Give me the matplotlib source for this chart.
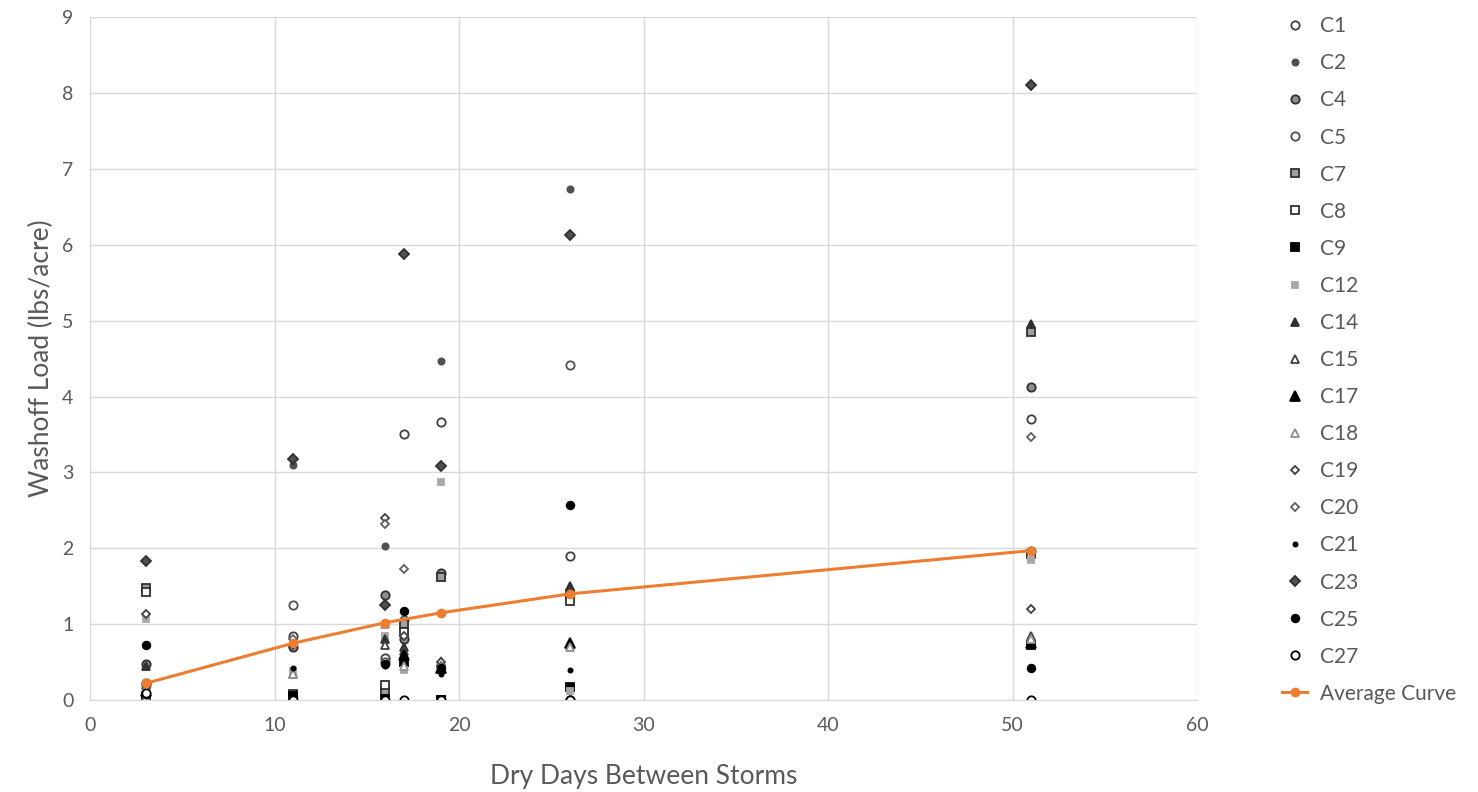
import matplotlib
matplotlib.use('Agg')
from matplotlib import pyplot as plt

plt.rcParams['font.family'] = ['Lato', 'DejaVu Sans']

days = [3, 11, 16, 17, 19, 26, 51]

C1 = [0.22, 0.85, 0.55, 3.5, 3.67, 1.9, 3.7]
C2 = [0.1, 3.1, 2.03, 0.9, 4.47, 6.73, 0.0]
C4 = [0.47, 0.7, 1.38, 0.8, 1.68, 0.0, 4.13]
C5 = [0.2, 1.25, 0.5, 1.05, 0.0, 4.42, 1.97]
C7 = [1.48, 0.08, 0.12, 1.0, 1.62, 1.4, 4.85]
C8 = [1.43, 0.02, 0.2, 0.9, 0.0, 1.3, 1.93]
C9 = [0.05, 0.05, 0.02, 0.5, 0.0, 0.17, 0.72]
C12 = [1.07, 0.38, 0.85, 0.4, 2.88, 0.12, 1.85]
C14 = [0.45, 0.75, 0.8, 0.7, 0.48, 1.5, 4.95]
C15 = [0.2, 0.35, 0.72, 0.65, 0.5, 1.42, 0.85]
C17 = [0.12, 0.0, 0.0, 0.6, 0.42, 0.75, 0.75]
C18 = [0.15, 0.35, 1.0, 0.45, 0.52, 0.7, 0.8]
C19 = [1.13, 0.73, 2.4, 0.85, 0.5, 0.0, 1.2]
C20 = [0.0, 0.8, 2.32, 1.73, 0.45, 0.0, 3.47]
C21 = [0.05, 0.42, 0.45, 0.55, 0.35, 0.4, 0.0]
C23 = [1.83, 3.18, 1.25, 5.88, 3.08, 6.13, 8.1]
C25 = [0.73, 0.05, 0.48, 1.18, 0.42, 2.57, 0.42]
C27 = [0.1, 0.0, 0.0, 0.0, 0.0, 0.0, 0.0]

avg_days = [3, 11, 16, 19, 26, 51]
avg_load = [0.22, 0.75, 1.02, 1.15, 1.4, 1.97]

# label, values, marker, face, edge, size
series = [
    ('C1', C1, 'o', 'white', '#404040', 6),
    ('C2', C2, 'o', '#505050', '#505050', 4.5),
    ('C4', C4, 'o', '#909090', '#303030', 6),
    ('C5', C5, 'o', 'white', '#505050', 6),
    ('C7', C7, 's', '#a0a0a0', '#303030', 6),
    ('C8', C8, 's', 'white', '#303030', 6),
    ('C9', C9, 's', 'black', 'black', 6),
    ('C12', C12, 's', '#a8a8a8', '#a8a8a8', 5),
    ('C14', C14, '^', '#303030', '#303030', 6),
    ('C15', C15, '^', 'white', '#404040', 6),
    ('C17', C17, '^', 'black', 'black', 6.5),
    ('C18', C18, '^', 'white', '#909090', 6),
    ('C19', C19, 'D', 'white', '#404040', 4.5),
    ('C20', C20, 'D', 'white', '#606060', 4.5),
    ('C21', C21, 'o', 'black', 'black', 3),
    ('C23', C23, 'D', '#505050', '#303030', 5),
    ('C25', C25, 'o', 'black', 'black', 5.5),
    ('C27', C27, 'o', 'white', 'black', 6),
]

fig = plt.figure(figsize=(14.78, 7.92), dpi=100)
ax = fig.add_axes([0.061, 0.116, 0.749, 0.8625])

for label, vals, mk, fc, ec, ms in series:
    ax.plot(days, vals, linestyle='none', marker=mk, markersize=ms,
            markerfacecolor=fc, markeredgecolor=ec, markeredgewidth=1.3, label=label)

ax.plot(avg_days, avg_load, color='#ED7D31', linewidth=2.2, marker='o',
        markersize=6, label='Average Curve', zorder=5)

ax.set_xlim(0, 60)
ax.set_ylim(0, 9)
ax.set_xticks(range(0, 61, 10))
ax.set_yticks(range(0, 10))
ax.grid(True, color='#d9d9d9', linewidth=1)
ax.set_axisbelow(True)
for s in ['top', 'right', 'left']:
    ax.spines[s].set_visible(False)
ax.spines['bottom'].set_color('#d9d9d9')
ax.tick_params(length=0, labelsize=14, colors='#595959', pad=12)

ax.set_xlabel('Dry Days Between Storms', fontsize=19, color='#595959', labelpad=22)
ax.set_ylabel('Washoff Load (lbs/acre)', fontsize=19, color='#595959', labelpad=6)

fig.legend(loc='upper left', bbox_to_anchor=(0.862, 0.99), frameon=False,
           fontsize=15, labelcolor='#595959', labelspacing=0.82,
           handlelength=1.2, handletextpad=0.6, borderaxespad=0)

fig.savefig('out.png', dpi=100)
